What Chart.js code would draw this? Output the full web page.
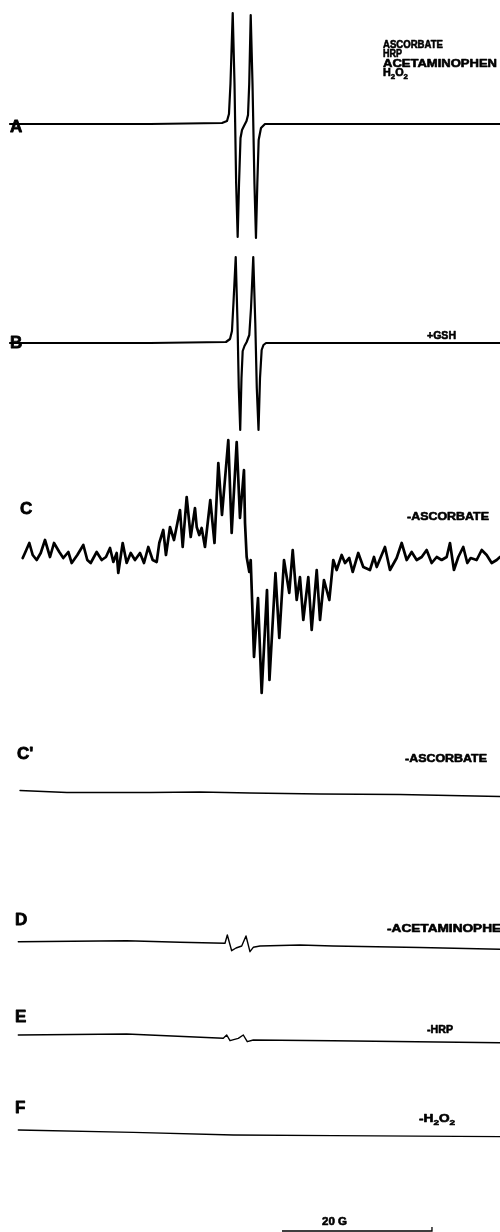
<!DOCTYPE html>
<html>
<head>
<meta charset="utf-8">
<script src="https://cdn.jsdelivr.net/npm/chart.js@4.4.1/dist/chart.umd.min.js"></script>
<style>
html,body{margin:0;padding:0;background:#fff;}
canvas{display:block;}
</style>
</head>
<body>
<canvas id="epr" width="500" height="1232"></canvas>
<script>
// field sweep in gauss (whole width of the figure)
var fieldMax = 66.67;

// EPR spectra: [field (G), signal (arb. units)]
var specA = [[1.33,0],[20.0,0],[29.6,1],[30.27,3],[30.53,10],[30.73,40],[31.03,111],[31.27,40],[31.49,-60],[31.69,-113],
  [31.87,-60],[32.07,-14],[32.27,-6],[32.53,-2],[32.87,3],[33.07,9],[33.23,40],[33.43,109],[33.67,40],[33.93,-60],
  [34.13,-114],[34.31,-60],[34.49,-16],[34.8,-4],[35.33,0],[66.67,0]];

var specB = [[1.33,0],[20.0,0],[30.13,1],[30.67,4],[30.93,12],[31.13,40],[31.43,86],[31.67,20],[31.84,-45],[32.03,-87],
  [32.2,-35],[32.36,-8],[32.6,-3],[32.89,1],[33.24,8],[33.47,35],[33.77,86],[34.04,20],[34.24,-45],[34.47,-87],
  [34.67,-35],[34.89,-7],[35.13,-2],[35.47,0],[66.67,0]];

var specC = [[3.03,-1],[3.33,4],[3.91,14],[4.36,2],[4.89,-3],[5.43,4],[6.0,17],[6.67,0],[7.2,14],[7.91,5],
  [8.44,-1],[9.11,5],[9.56,-6],[10.31,2],[11.11,12],[11.64,-3],[12.09,-6],[12.89,5],[13.56,-3],[14.13,0],
  [14.67,9],[15.11,-5],[15.56,4],[15.77,-16],[16.36,14],[16.89,-6],[17.43,4],[18.0,-3],[18.67,4],[19.2,-6],
  [19.77,10],[20.36,-3],[20.89,-5],[21.24,14],[21.77,27],[22.13,2],[22.67,30],[23.2,17],[24.0,47],[24.36,10],
  [24.89,60],[25.43,20],[26.0,49],[26.23,30],[26.57,22],[26.89,29],[27.33,10],[28.04,57],[28.6,14],[29.11,94],
  [29.6,42],[30.44,117],[30.89,24],[31.56,115],[32.0,39],[32.53,87],[32.67,34],[32.89,0],[33.24,-15],[33.43,-3],
  [33.87,-100],[34.4,-41],[34.89,-136],[35.6,-33],[35.93,-123],[36.73,-16],[37.24,-81],[37.87,-3],[38.57,-36],[39.03,7],
  [39.56,-43],[40.0,-20],[40.44,-63],[41.11,-20],[41.56,-73],[42.23,-13],[42.67,-63],[43.2,-23],[43.91,-43],[44.44,-3],
  [44.89,-13],[45.56,2],[46.0,-6],[46.57,-1],[47.03,-15],[47.77,4],[48.44,-10],[49.33,-13],[49.87,0],[50.23,-10],
  [51.33,10],[52.0,-13],[52.89,-1],[53.56,14],[54.23,-3],[54.89,5],[55.56,-3],[56.23,0],[56.89,7],[57.56,-6],
  [58.23,0],[58.89,-3],[59.56,0],[60.0,14],[60.53,-13],[61.11,0],[61.77,10],[62.31,-6],[62.76,-1],[63.56,-3],
  [64.23,7],[64.89,2],[65.56,-6],[66.23,-3],[66.67,0]];

var specC2 = [[2.67,1.5],[8.93,-0.5],[20.0,-0.5],[26.67,0],[33.33,-1],[42.67,-2],[53.33,-2.5],[60.0,-3.5],[66.67,-4.5]];

var specD = [[2.44,1.3],[16.89,2.3],[24.0,0.7],[30.0,-0.3],[30.31,8],[30.89,-7.7],[31.47,-5],[32.23,-3],[32.8,7],
  [33.33,-8.7],[33.77,-4.3],[34.67,-3],[40.0,-2],[44.4,-3],[56.0,-4.5],[66.67,-6.3]];

var specE = [[2.44,2],[16.89,3],[29.77,-1.3],[30.23,2],[30.67,-3.7],[31.77,-1.3],[32.44,2],[32.97,-4.7],[33.77,-3],
  [44.4,-3.7],[66.67,-5.7]];

var specF = [[2.44,0],[17.77,-2.3],[31.11,-5],[44.4,-5.7],[66.67,-6.7]];

// scale bar (G)
var scaleBarStart = 37.6;
var scaleBarLength = 20;

// where each trace sits on the page (distance of its baseline from the top)
var traces = [
  {data: specA, base: 124, width: 2.2},
  {data: specB, base: 343, width: 2.2},
  {data: specC, base: 557, width: 2.7},
  {data: specC2, base: 792, width: 1.4},
  {data: specD, base: 943, width: 1.4},
  {data: specE, base: 1037, width: 1.4},
  {data: specF, base: 1130, width: 1.3}
];

var panelLabels = [
  {t:"A", x:10, y:132}, {t:"B", x:10, y:348}, {t:"C", x:20, y:514}, {t:"C'", x:17, y:759},
  {t:"D", x:15, y:925}, {t:"E", x:15, y:1022}, {t:"F", x:15, y:1113}
];

var notes = [
  {t:"ASCORBATE", x:383, y:48, w:60},
  {t:"HRP", x:383, y:57, w:19},
  {t:"ACETAMINOPHEN", x:383, y:67, w:114},
  {t:"H2O2", x:383, y:76, w:25, sub:true},
  {t:"+GSH", x:427, y:339, w:29},
  {t:"-ASCORBATE", x:407, y:520, w:82},
  {t:"-ASCORBATE", x:405, y:762, w:82},
  {t:"-ACETAMINOPHEN", x:387, y:932, w:124},
  {t:"-HRP", x:427, y:1033, w:26},
  {t:"-H2O2", x:419, y:1122, w:36, sub:true},
  {t:"20 G", x:322, y:1225, w:25}
];

var FONT = "'Liberation Sans', Arial, Helvetica, sans-serif";

var datasets = traces.map(function(tr){
  return {
    data: tr.data.map(function(p){ return {x: p[0], y: tr.base - p[1]}; }),
    showLine: true, borderColor: "#000", borderWidth: tr.width,
    pointRadius: 0, tension: 0, borderJoinStyle: "round", borderCapStyle: "round"
  };
});

// 20 G bar with its end tick
datasets.push({
  data: [{x: scaleBarStart, y: 1231}, {x: scaleBarStart + scaleBarLength, y: 1231}, {x: scaleBarStart + scaleBarLength, y: 1227}],
  showLine: true, borderColor: "#000", borderWidth: 1.3, pointRadius: 0, tension: 0
});

function drawNote(ctx, n){
  var size = 11, subSize = 8;
  var runs = [];
  for(var i=0;i<n.t.length;i++){
    var ch = n.t[i];
    var isSub = !!n.sub && /[0-9]/.test(ch);
    if(runs.length && runs[runs.length-1].sub === isSub) runs[runs.length-1].s += ch;
    else runs.push({s: ch, sub: isSub});
  }
  var total = 0;
  runs.forEach(function(r){
    ctx.font = "bold " + (r.sub ? subSize : size) + "px " + FONT;
    r.w = ctx.measureText(r.s).width;
    total += r.w;
  });
  ctx.save();
  ctx.translate(n.x, n.y);
  ctx.scale(n.w / total, 1);
  ctx.lineWidth = 0.6;
  ctx.strokeStyle = "#000";
  ctx.lineJoin = "round";
  var cx = 0;
  runs.forEach(function(r){
    ctx.font = "bold " + (r.sub ? subSize : size) + "px " + FONT;
    ctx.fillText(r.s, cx, r.sub ? 2.5 : 0);
    ctx.strokeText(r.s, cx, r.sub ? 2.5 : 0);
    cx += r.w;
  });
  ctx.restore();
}

var labelPlugin = {
  id: "labels",
  afterDatasetsDraw: function(chart){
    var ctx = chart.ctx;
    ctx.save();
    ctx.fillStyle = "#000";
    ctx.strokeStyle = "#000";
    ctx.textBaseline = "alphabetic";
    ctx.textAlign = "left";
    ctx.font = "bold 17px " + FONT;
    ctx.lineWidth = 0.8;
    ctx.lineJoin = "round";
    panelLabels.forEach(function(l){ ctx.fillText(l.t, l.x, l.y); ctx.strokeText(l.t, l.x, l.y); });
    notes.forEach(function(n){ drawNote(ctx, n); });
    ctx.restore();
  }
};

new Chart(document.getElementById("epr").getContext("2d"), {
  type: "scatter",
  data: {datasets: datasets},
  options: {
    responsive: false,
    animation: false,
    devicePixelRatio: 1,
    layout: {padding: 0},
    plugins: {legend: {display: false}, tooltip: {enabled: false}},
    scales: {
      x: {type: "linear", min: 0, max: fieldMax, display: false},
      y: {type: "linear", min: 0, max: 1232, reverse: true, display: false}
    }
  },
  plugins: [labelPlugin]
});
</script>
</body>
</html>
